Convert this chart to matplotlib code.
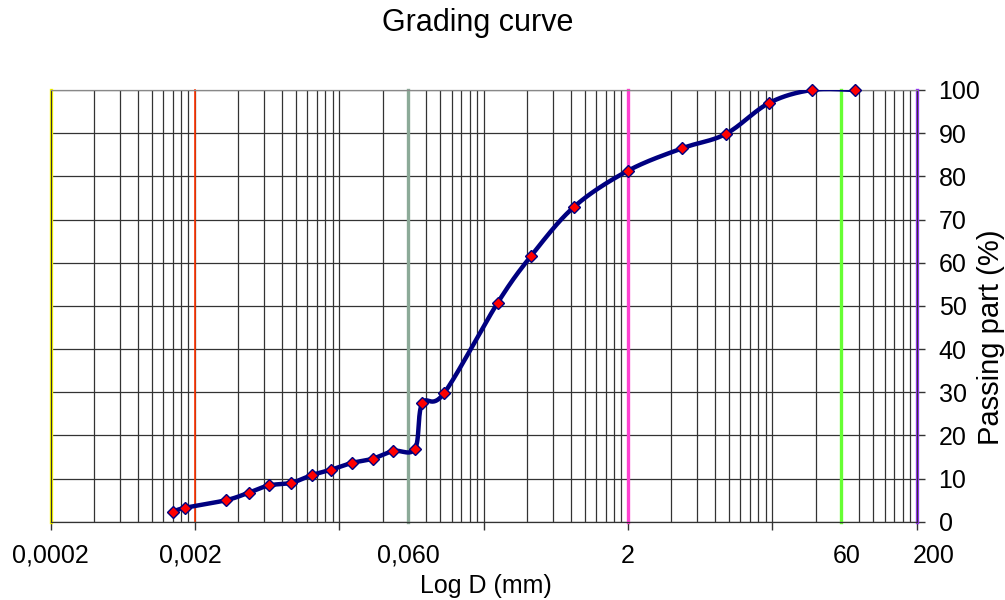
import numpy as np
import matplotlib
matplotlib.use("Agg")
import matplotlib.pyplot as plt
from matplotlib.ticker import FixedLocator, NullFormatter

plt.rcParams["font.family"] = ["Liberation Sans", "DejaVu Sans"]

# sieve + hydrometer results
DIAMETER_MM = [0.0014, 0.0017, 0.0033, 0.0047, 0.0065, 0.0093, 0.0129, 0.0174,
               0.0244, 0.0341, 0.0473, 0.0669, 0.075, 0.106, 0.25, 0.425,
               0.85, 2.0, 4.75, 9.5, 19.0, 37.5, 75.0]
PASSING_PCT = [2.3, 3.2, 5.0, 6.7, 8.4, 9.0, 10.8, 12.0,
               13.6, 14.6, 16.4, 16.9, 27.4, 29.7, 50.7, 61.5,
               73.0, 81.3, 86.5, 89.8, 97.0, 100.0, 100.0]

# fraction limits (clay / silt / sand / gravel / cobbles)
LIMIT_SIZES = [0.0002, 0.002, 0.06, 2, 60, 200]
LIMIT_COLORS = ["#FFFF00", "#FF3300", "#8CAA98", "#FF40D0", "#66FF33", "#9933FF"]

X_LABEL_SIZES = [0.0002, 0.002, 0.06, 2, 60, 200]
X_LABELS = ["0,0002", "0,002", "0,060", "2", "60", "200"]
Y_TICKS = list(range(0, 101, 10))

X_MIN, X_MAX = 0.0002, 200
GRID = "#333333"


def excel_smooth(ax, xs, ys, steps=30):
    """Bezier smoothing done in screen space, like a spreadsheet 'smoothed line'."""
    pts = ax.transData.transform(np.column_stack([xs, ys]))
    n = len(pts)
    t = np.linspace(0, 1, steps)[:, None]
    out = []
    for i in range(n - 1):
        p0 = pts[max(i - 1, 0)]
        p1 = pts[i]
        p2 = pts[i + 1]
        p3 = pts[min(i + 2, n - 1)]
        c1 = p1 + (p2 - p0) / 6
        c2 = p2 - (p3 - p1) / 6
        seg = ((1 - t) ** 3) * p1 + 3 * ((1 - t) ** 2) * t * c1 \
            + 3 * (1 - t) * t ** 2 * c2 + t ** 3 * p2
        out.append(seg if i == 0 else seg[1:])
    return ax.transData.inverted().transform(np.vstack(out))


fig = plt.figure(figsize=(10.05, 6.0), dpi=100)
ax = fig.add_axes([0.0504, 0.1305, 0.8617, 0.7195])

ax.set_xscale("log")
ax.set_xlim(X_MIN, X_MAX)
ax.set_ylim(0, 100)

# log grid counted from 2*10^n
majors = [2 * 10.0 ** e for e in range(-4, 3)]
minors = [m * k for m in majors for k in range(2, 10) if m * k < X_MAX * 1.0001]
ax.xaxis.set_major_locator(FixedLocator(majors))
ax.xaxis.set_minor_locator(FixedLocator(minors))
ax.xaxis.set_major_formatter(NullFormatter())
ax.xaxis.set_minor_formatter(NullFormatter())
ax.tick_params(axis="x", which="major", direction="out", length=5.5, width=1, color=GRID)
ax.tick_params(axis="x", which="minor", length=0)

ax.yaxis.tick_right()
ax.set_yticks(Y_TICKS)
ax.tick_params(axis="y", direction="out", length=5.8, width=1, color=GRID,
               pad=10, labelsize=18)

ax.grid(True, which="both", axis="x", color=GRID, lw=0.9)
ax.grid(True, which="major", axis="y", color=GRID, lw=0.9)
ax.set_axisbelow(True)
for side in ax.spines.values():
    side.set_color(GRID)
    side.set_linewidth(0.9)
ax.spines["top"].set_color("#888888")

for size, col in zip(LIMIT_SIZES, LIMIT_COLORS):
    lw = 1.2 if col == "#FF3300" else 2.4
    ax.axvline(size, color=col, lw=lw, zorder=2.5, clip_on=False)

# x labels sit under the fraction limits
label_shift = {"0,002": -3, "60": 4, "200": 12}
for size, text in zip(X_LABEL_SIZES, X_LABELS):
    ax.annotate(text, xy=(size, 0), xycoords=("data", "axes fraction"),
                xytext=(label_shift.get(text, 0), -16), textcoords="offset points",
                ha="center", va="top", fontsize=18)

curve = excel_smooth(ax, DIAMETER_MM, PASSING_PCT)
ax.plot(curve[:, 0], curve[:, 1], color="#000080", lw=3.2, zorder=4,
        solid_capstyle="round")
ax.plot(DIAMETER_MM, PASSING_PCT, ls="none", marker="D", ms=6.2,
        mfc="#FF0000", mec="#000080", mew=1.0, zorder=5, clip_on=False)

fig.text(477.5 / 1005, 1 - 31.5 / 600, "Grading curve", ha="center",
         va="baseline", fontsize=22)
fig.text(486 / 1005, 1 - 593 / 600, "Log D (mm)", ha="center",
         va="baseline", fontsize=18)
fig.text(991 / 1005, 1 - 337 / 600, "Passing part (%)", ha="center",
         va="center", rotation=90, fontsize=21)

fig.savefig("out.png", dpi=100)
